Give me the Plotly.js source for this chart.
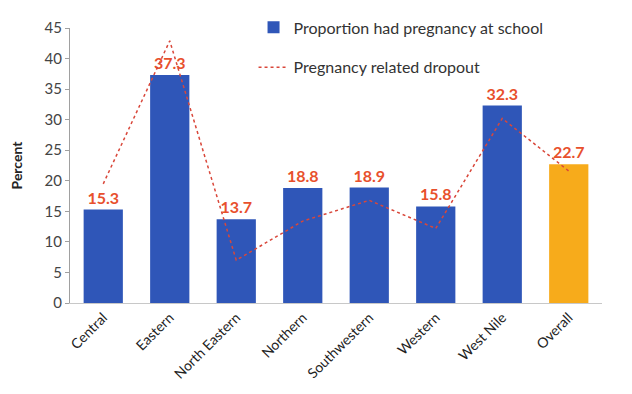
<!DOCTYPE html>
<html>
<head>
<meta charset="utf-8">
<script src="https://cdn.plot.ly/plotly-3.0.1.min.js"></script>
<style>
  html, body { margin: 0; padding: 0; background: #ffffff; }
  #chart { width: 632px; height: 394px; }
</style>
</head>
<body>
<div id="chart"></div>
<script>
// Regions of Uganda plus the national figure
const regions = ["Central", "Eastern", "North Eastern", "Northern", "Southwestern", "Western", "West Nile", "Overall"];
// Share of girls who had a pregnancy while at school (%)
const pregnancyAtSchool = [15.3, 37.3, 13.7, 18.8, 18.9, 15.8, 32.3, 22.7];
// Share of dropouts that were pregnancy related (%)
const pregnancyDropout = [19.5, 42.9, 7.0, 13.4, 16.8, 12.2, 30.2, 21.6];
// Axis ticks
const yTicks = [0, 5, 10, 15, 20, 25, 30, 35, 40, 45];

const blue = "#2f56b8";
const amber = "#f7ab1b";
const barColors = regions.map(r => r === "Overall" ? amber : blue);

const bars = {
  type: "bar",
  x: regions,
  y: pregnancyAtSchool,
  name: "Proportion had pregnancy at school",
  legendgroup: "a",
  marker: { color: barColors },
  text: pregnancyAtSchool.map(v => v.toFixed(1)),
  textposition: "outside",
  textfont: { family: "Lato, 'Open Sans', sans-serif", size: 16, color: "#e8502c", weight: "bold" },
  cliponaxis: false,
  hoverinfo: "x+y"
};

const line = {
  type: "scatter",
  mode: "lines",
  x: regions,
  y: pregnancyDropout,
  name: "Pregnancy related dropout",
  legendgroup: "b",
  line: { color: "#d9473a", width: 1.5, dash: "dot" },
  hoverinfo: "x+y"
};

const layout = {
  width: 632,
  height: 394,
  paper_bgcolor: "#ffffff",
  plot_bgcolor: "#ffffff",
  margin: { l: 70, r: 30, t: 27, b: 91 },
  font: { family: "Lato, 'Open Sans', sans-serif", color: "#3a3a3a" },
  bargap: 0.41,
  showlegend: true,
  legend: {
    x: 0.345, y: 1.06, xanchor: "left", yanchor: "top",
    bgcolor: "rgba(0,0,0,0)",
    font: { size: 16, color: "#333333" },
    tracegroupgap: 16,
    itemwidth: 30
  },
  xaxis: {
    type: "category",
    tickangle: -45,
    tickfont: { size: 14, color: "#222222" },
    showline: true,
    linecolor: "#c8c8c8",
    linewidth: 1,
    ticks: "",
    showgrid: false,
    zeroline: false
  },
  yaxis: {
    range: [0, 45],
    tickvals: yTicks,
    tickfont: { size: 15, color: "#444444" },
    showline: true,
    linecolor: "#a0a0a0",
    linewidth: 1,
    ticks: "outside",
    ticklen: 4,
    tickcolor: "#a0a0a0",
    showgrid: false,
    zeroline: false,
    title: { text: "Percent", font: { size: 14, color: "#222222", weight: "bold" }, standoff: 18 }
  }
};

Plotly.newPlot("chart", [bars, line], layout, { displayModeBar: false, staticPlot: true });
</script>
</body>
</html>
